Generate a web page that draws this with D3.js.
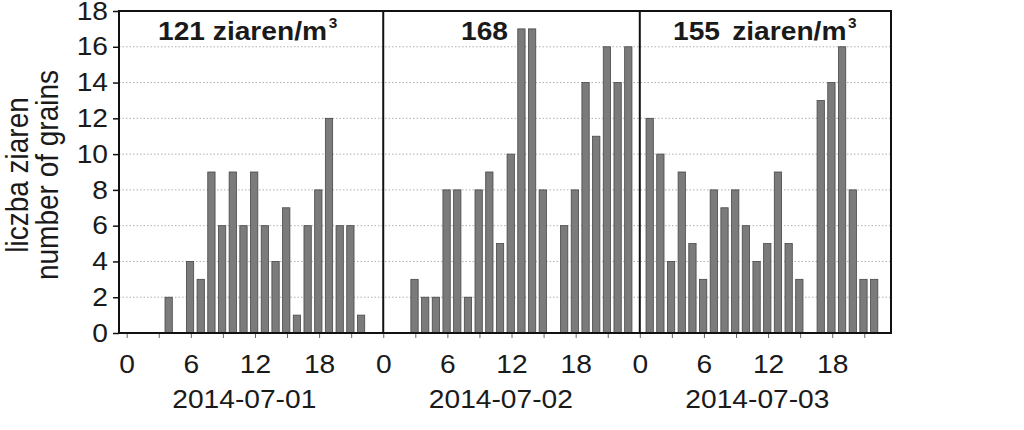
<!DOCTYPE html>
<html>
<head>
<meta charset="utf-8">
<script src="https://cdn.jsdelivr.net/npm/d3@7"></script>
<style>
  html, body { margin: 0; padding: 0; background: #fff; }
  svg { display: block; }
  text { font-family: "Liberation Sans", Arial, sans-serif; fill: #1a1a1a; }
</style>
</head>
<body>
<svg id="chart" width="1024" height="430"></svg>
<script>
// ---- data ----
const hours = [0,1,2,3,4,5,6,7,8,9,10,11,12,13,14,15,16,17,18,19,20,21,22,23];
const days = ["2014-07-01", "2014-07-02", "2014-07-03"];
const grains0701 = [0,0,0,0,2,0,4,3,9,6,9,6,9,6,4,7,1,6,8,12,6,6,1,0];
const grains0702 = [0,0,0,3,2,2,8,8,2,8,9,5,10,17,17,8,0,6,8,14,11,16,14,16];
const grains0703 = [0,12,10,4,9,5,3,8,7,8,6,4,5,9,5,3,0,13,14,16,8,3,3,0];
const concentrations = ["121", "168", "155"];
const yTickValues = [0,2,4,6,8,10,12,14,16,18];
const xTickLabels = ["0","6","12","18"];
const yTitle = ["liczba ziaren", "number of grains"];

const series = [grains0701, grains0702, grains0703];

// ---- layout ----
const svg = d3.select("#chart");
const pL = 119, pR = 891, pT = 11, pB = 333;
const x = d3.scaleLinear().domain([-0.72, 71.5]).range([pL, pR]);
const y = d3.scaleLinear().domain([0, 18]).range([pB, pT]);
const SX = 1.1; // horizontal stretch of the reference text

// gridlines
svg.append("g").selectAll("line")
  .data(yTickValues.filter(v => v > 0 && v < 18))
  .join("line")
  .attr("x1", pL).attr("x2", pR)
  .attr("y1", d => y(d)).attr("y2", d => y(d))
  .attr("stroke", "#b0b0b0").attr("stroke-width", 1)
  .attr("stroke-dasharray", "1.5,2");

// bars
const barData = [];
series.forEach((vals, di) => {
  hours.forEach((h, i) => {
    if (vals[i] > 0) barData.push({ t: di * 24 + h, v: vals[i] });
  });
});
const bw = 7.3;
svg.append("g").selectAll("rect")
  .data(barData)
  .join("rect")
  .attr("x", d => x(d.t) - 0.8 - bw / 2)
  .attr("width", bw)
  .attr("y", d => y(d.v))
  .attr("height", d => y(0) - y(d.v))
  .attr("fill", "#7b7b7b")
  .attr("stroke", "#474747")
  .attr("stroke-width", 0.8);

// x axis (ticks every 3 h)
const tickHours = d3.range(0, 72, 3);
const xAxis = d3.axisBottom(x)
  .tickValues(tickHours)
  .tickSize(5)
  .tickPadding(17)
  .tickFormat(h => (h % 6 === 0 ? xTickLabels[(h % 24) / 6] : ""));
const gx = svg.append("g").attr("transform", `translate(0,${pB})`).call(xAxis);
gx.select(".domain").remove();
gx.selectAll(".tick line").attr("stroke", "#666").attr("stroke-width", 1);
gx.selectAll(".tick text")
  .attr("font-size", 25.6)
  .attr("font-family", "Liberation Sans, Arial, sans-serif")
  .attr("fill", "#1a1a1a")
  .attr("transform", `scale(${SX},1)`);

// y axis
const yAxis = d3.axisLeft(y).tickValues(yTickValues).tickSize(6).tickPadding(4);
const gy = svg.append("g").attr("transform", `translate(${pL},0)`).call(yAxis);
gy.select(".domain").remove();
gy.selectAll(".tick line").attr("stroke", "#111").attr("stroke-width", 1.5);
gy.selectAll(".tick text")
  .attr("font-size", 25.6)
  .attr("font-family", "Liberation Sans, Arial, sans-serif")
  .attr("fill", "#1a1a1a")
  .attr("transform", `scale(${SX},1)`);

// frame and day separators
svg.append("rect")
  .attr("x", pL).attr("y", pT)
  .attr("width", pR - pL).attr("height", pB - pT)
  .attr("fill", "none").attr("stroke", "#111").attr("stroke-width", 2);
svg.append("g").selectAll("line")
  .data([24, 48])
  .join("line")
  .attr("x1", d => x(d)).attr("x2", d => x(d))
  .attr("y1", pT).attr("y2", pB)
  .attr("stroke", "#111").attr("stroke-width", 2);

// date labels
svg.append("g").selectAll("text")
  .data(days)
  .join("text")
  .attr("transform", (d, i) => `translate(${x(i * 24 + 11.0)},408) scale(${SX},1)`)
  .attr("text-anchor", "middle")
  .attr("font-size", 25.6)
  .text(d => d);

// panel titles
function title(xpos, anchor, num, unit, gap) {
  const t = svg.append("text")
    .attr("transform", `translate(${xpos},40) scale(${SX},1)`)
    .attr("text-anchor", anchor)
    .attr("font-size", 25.6)
    .attr("font-weight", "bold");
  t.append("tspan").text(num);
  if (unit) {
    t.append("tspan").attr("dx", gap).text(" ziaren/m");
    t.append("tspan").attr("font-size", 14).attr("dx", 1.5).attr("dy", -12).text("3");
  }
}
title(158, "start", concentrations[0], true, 0);
title(508, "end", concentrations[1], false, 0);
title(673, "start", concentrations[2], true, 4);

// y title
svg.append("g").selectAll("text")
  .data(yTitle)
  .join("text")
  .attr("transform", (d, i) => `translate(${28 + i * 30},175) scale(${SX},1) rotate(-90)`)
  .attr("text-anchor", "middle")
  .attr("font-size", 28)
  .text(d => d);
</script>
</body>
</html>
